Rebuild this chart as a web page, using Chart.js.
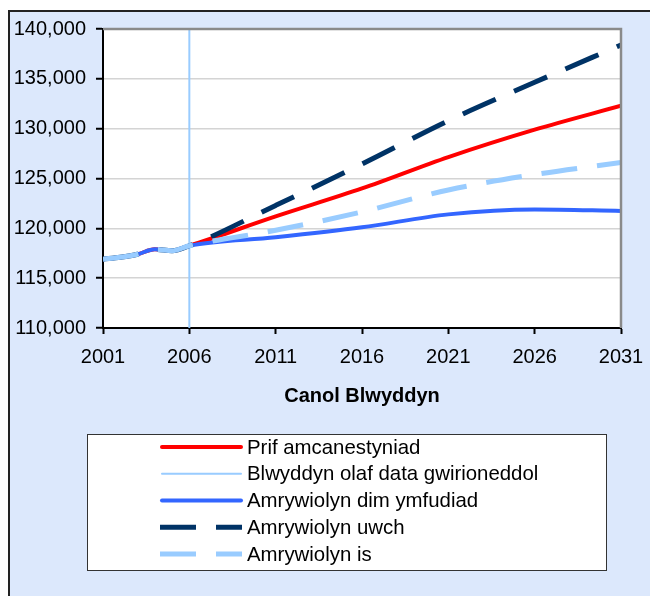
<!DOCTYPE html>
<html><head><meta charset="utf-8">
<script src="https://cdn.jsdelivr.net/npm/chart.js@4.4.1/dist/chart.umd.min.js"></script>
<style>html,body{margin:0;padding:0;background:#fff;overflow:hidden}#wrap{width:650px;height:596px;position:relative}</style>
</head><body><div id="wrap"><canvas id="c" width="650" height="596"></canvas></div>
<script>
// ---- data ----
const historyYears = [2001, 2002, 2003, 2004, 2005, 2006];
const historyValues = [116900, 117100, 117400, 117900, 117750, 118250];
const projectionYears = [2011, 2016, 2021, 2026, 2031];
const principalValues = [121200, 124000, 127150, 129900, 132300];
const zeroMigrationValues = [119100, 120100, 121400, 121900, 121750];
const highVariantValues = [122300, 126450, 130800, 134650, 138400];
const lowVariantValues = [119800, 121650, 123850, 125400, 126600];
const lastDataYear = 2006;
const xTickValues = [2001, 2006, 2011, 2016, 2021, 2026, 2031];
const yTickValues = [110000, 115000, 120000, 125000, 130000, 135000, 140000];
const seriesLabels = ['Prif amcanestyniad', 'Blwyddyn olaf data gwirioneddol', 'Amrywiolyn dim ymfudiad', 'Amrywiolyn uwch', 'Amrywiolyn is'];
const xAxisTitle = 'Canol Blwyddyn';

const FONT = "'Liberation Sans', Arial, sans-serif";
const yMin = yTickValues[0], yMax = yTickValues[yTickValues.length - 1];

function series(proj) {
  return historyYears.map((x, i) => ({x, y: historyValues[i]}))
    .concat(projectionYears.map((x, i) => ({x, y: proj[i]})));
}

const framePlugin = {
  id: 'frame',
  beforeDraw(chart) {
    const {ctx, chartArea: a} = chart;
    ctx.save();
    ctx.fillStyle = '#ffffff';
    ctx.fillRect(0, 0, 650, 596);
    ctx.fillStyle = '#DCE8FC';
    ctx.fillRect(8, 10, 642, 586);
    ctx.strokeStyle = '#222';
    ctx.lineWidth = 2;
    ctx.beginPath(); ctx.moveTo(9, 596); ctx.lineTo(9, 11); ctx.lineTo(650, 11); ctx.stroke();
    ctx.fillStyle = '#ffffff';
    ctx.fillRect(a.left, a.top, a.right - a.left, a.bottom - a.top);
    ctx.restore();
  },
  afterDraw(chart) {
    const {ctx, chartArea: a} = chart;
    ctx.save();
    ctx.strokeStyle = '#8a8a8a';
    ctx.lineWidth = 2.5;
    ctx.beginPath(); ctx.moveTo(a.left, a.top); ctx.lineTo(a.right, a.top); ctx.lineTo(a.right, a.bottom); ctx.stroke();
    // legend box
    const bx = 87, by = 434, bw = 519, bh = 136;
    ctx.fillStyle = '#fff';
    ctx.fillRect(bx, by, bw, bh);
    ctx.strokeStyle = '#333';
    ctx.lineWidth = 1;
    ctx.strokeRect(bx + 0.5, by + 0.5, bw, bh);
    chart.data.datasets.forEach((ds, i) => {
      const y = 447 + i * 26.75;
      const dashed = ds.borderDash && ds.borderDash.length;
      ctx.save();
      ctx.strokeStyle = ds.borderColor;
      ctx.lineWidth = ds.borderWidth;
      ctx.lineCap = dashed ? 'butt' : 'round';
      ctx.setLineDash(ds.borderDash || []);
      ctx.beginPath();
      ctx.moveTo(dashed ? 160 : 162, y); ctx.lineTo(dashed ? 242 : 241, y); ctx.stroke();
      ctx.restore();
      ctx.fillStyle = '#000';
      ctx.font = '20.4px ' + FONT;
      ctx.textBaseline = 'middle';
      ctx.textAlign = 'left';
      ctx.fillText(ds.label, 247, y + 1);
    });
    ctx.restore();
  }
};

new Chart(document.getElementById('c'), {
  type: 'line',
  data: {
    datasets: [
      {label: seriesLabels[0], data: series(principalValues), borderColor: '#FF0000', borderWidth: 4, borderCapStyle: 'round', order: 5},
      {label: seriesLabels[1], data: [{x: lastDataYear, y: yMin}, {x: lastDataYear, y: yMax}], borderColor: '#99CCFF', borderWidth: 2, order: 4, cubicInterpolationMode: 'default', tension: 0},
      {label: seriesLabels[2], data: series(zeroMigrationValues), borderColor: '#3366FF', borderWidth: 4, borderCapStyle: 'round', order: 3},
      {label: seriesLabels[3], data: series(highVariantValues), borderColor: '#003366', borderWidth: 5, borderDash: [36, 20], borderCapStyle: 'butt', order: 2},
      {label: seriesLabels[4], data: series(lowVariantValues), borderColor: '#99CCFF', borderWidth: 5, borderDash: [36, 20], borderCapStyle: 'butt', order: 1}
    ]
  },
  options: {
    responsive: false,
    animation: false,
    devicePixelRatio: 1,
    datasets: {line: {pointRadius: 0, fill: false, cubicInterpolationMode: 'monotone', borderJoinStyle: 'round'}},
    layout: {padding: {left: 0, top: 29, right: 29, bottom: 0}},
    plugins: {legend: {display: false}, tooltip: {enabled: false}},
    scales: {
      x: {
        type: 'linear', min: xTickValues[0], max: xTickValues[xTickValues.length - 1],
        afterBuildTicks: s => { s.ticks = xTickValues.map(v => ({value: v})); },
        ticks: {color: '#000', font: {size: 20, family: FONT}, padding: 11, maxRotation: 0, autoSkip: false, callback: v => String(v)},
        grid: {drawOnChartArea: false, drawTicks: true, tickLength: 6, tickColor: '#000', tickWidth: 2},
        border: {color: '#000', width: 2},
        title: {display: true, text: xAxisTitle, color: '#000', font: {size: 20, weight: 'bold', family: FONT}, padding: {top: 0, bottom: 188}},
        afterFit: s => { s.height = 268; s.paddingLeft = 0; s.paddingRight = 0; }
      },
      y: {
        type: 'linear', min: yMin, max: yMax,
        afterBuildTicks: s => { s.ticks = yTickValues.map(v => ({value: v})); },
        ticks: {color: '#000', font: {size: 20, family: FONT}, padding: 10, callback: v => v.toLocaleString('en-US')},
        grid: {color: '#D4D4D4', lineWidth: 1.5, drawTicks: true, tickLength: 7, tickColor: '#000', tickWidth: 2},
        border: {color: '#000', width: 2},
        afterFit: s => { s.width = 103; s.paddingTop = 0; s.paddingBottom = 0; }
      }
    }
  },
  plugins: [framePlugin]
});
</script>
</body></html>
